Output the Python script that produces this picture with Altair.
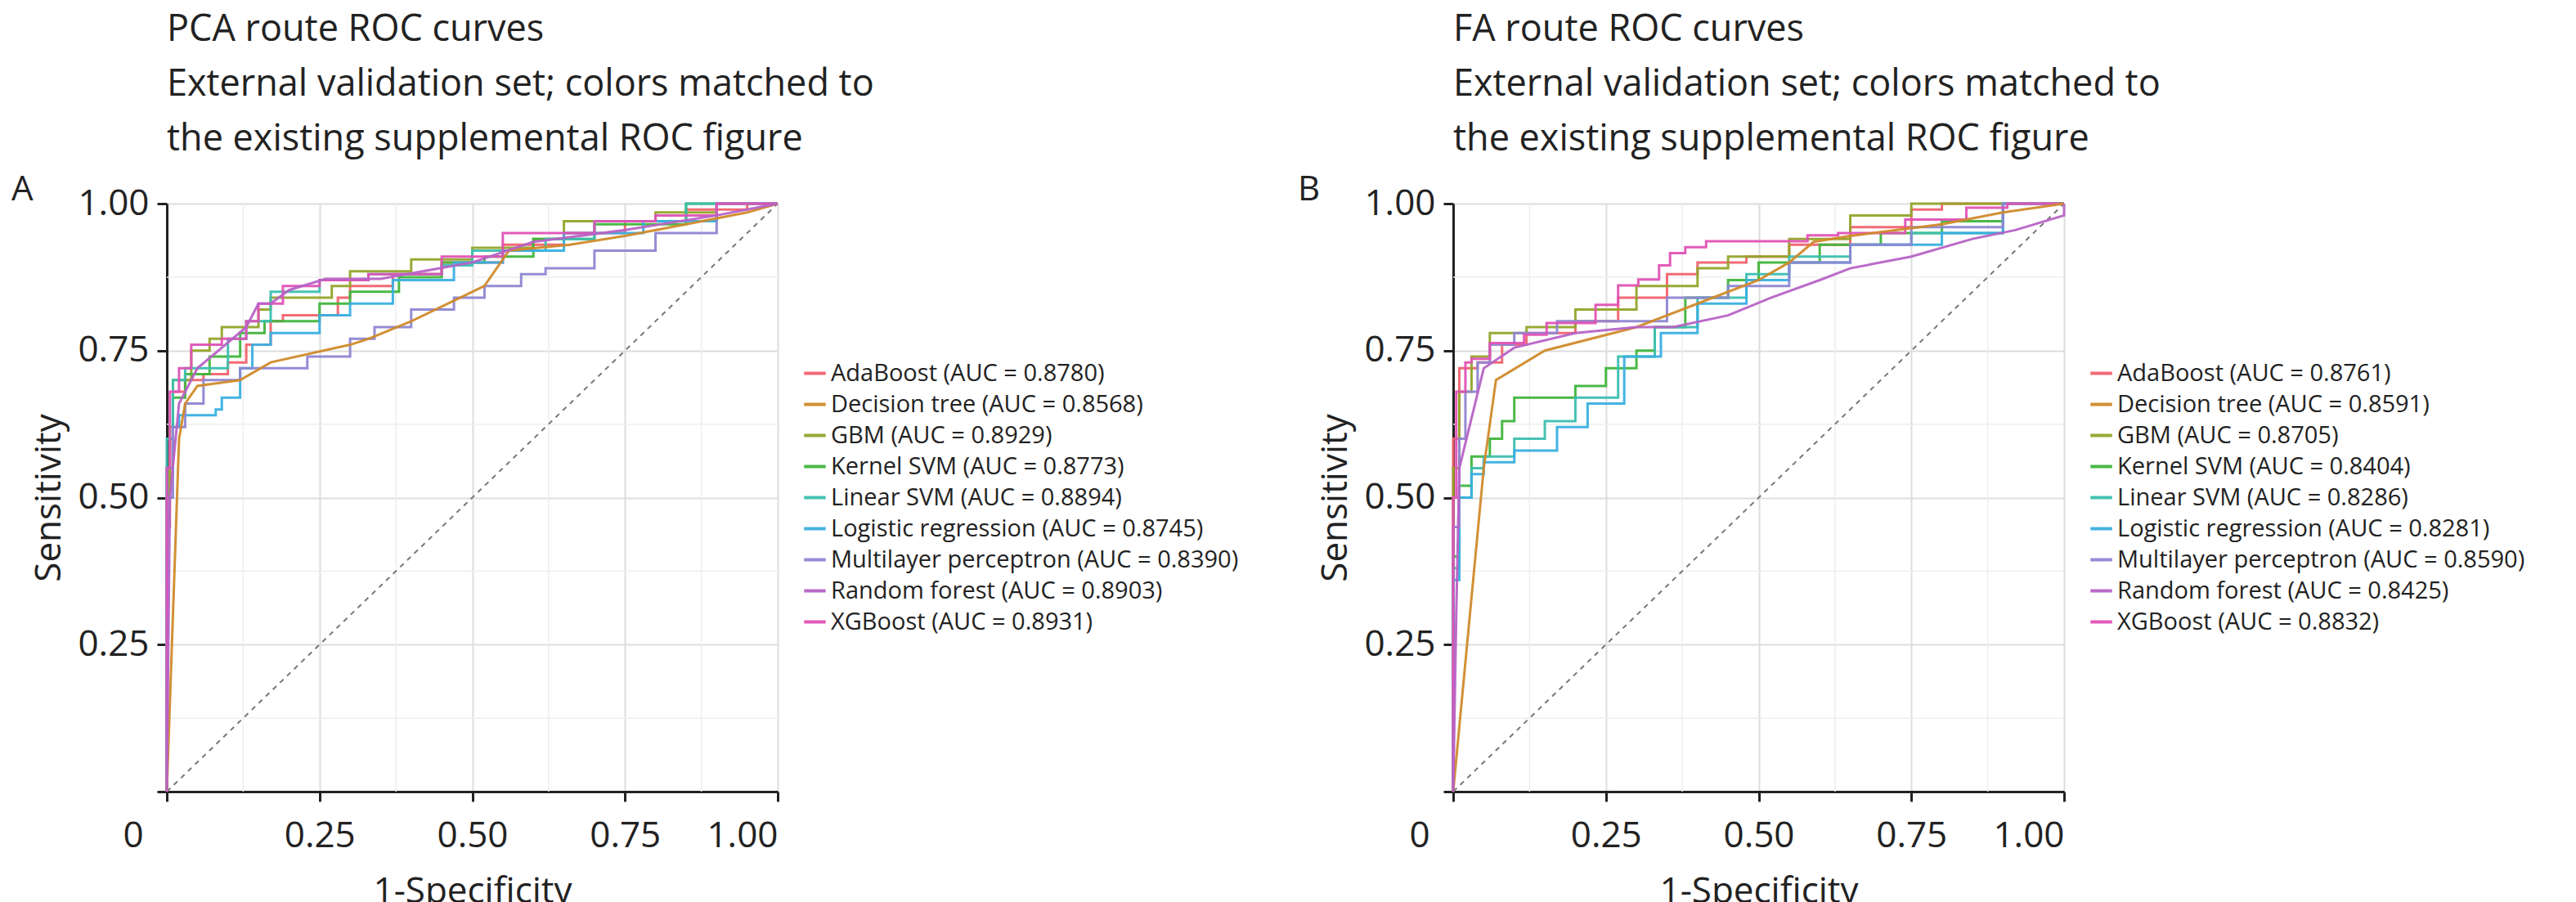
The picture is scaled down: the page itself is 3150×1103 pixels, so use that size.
import altair as alt
import pandas as pd

FONT = "Open Sans"

models = ["AdaBoost", "Decision tree", "GBM", "Kernel SVM", "Linear SVM",
          "Logistic regression", "Multilayer perceptron", "Random forest", "XGBoost"]
colors = ["#F0636E", "#D08A2A", "#93A52A", "#40B53C", "#3CBFB0",
          "#3AAFE0", "#8E86D2", "#B763C6", "#E052B5"]
smooth_models = ["Decision tree", "Random forest"]

auc_pca = [0.8780, 0.8568, 0.8929, 0.8773, 0.8894, 0.8745, 0.8390, 0.8903, 0.8931]
auc_fa = [0.8761, 0.8591, 0.8705, 0.8404, 0.8286, 0.8281, 0.8590, 0.8425, 0.8832]

# ROC points (fpr, tpr), panel A (PCA route)
roc_pca = {
    "AdaBoost": [(0, 0), (0.005, 0.45), (0.01, 0.6), (0.03, 0.68), (0.06, 0.70), (0.1, 0.71),
                 (0.13, 0.73), (0.17, 0.76), (0.19, 0.8), (0.28, 0.81), (0.3, 0.84), (0.37, 0.86),
                 (0.45, 0.88), (0.55, 0.9), (0.65, 0.93), (0.75, 0.95), (0.85, 0.97), (0.95, 0.99), (1, 1)],
    "Decision tree": [(0, 0), (0.02, 0.6), (0.03, 0.66), (0.05, 0.69), (0.12, 0.70), (0.17, 0.73),
                      (0.3, 0.76), (0.33, 0.77), (0.4, 0.80), (0.5, 0.85), (0.52, 0.86), (0.56, 0.92),
                      (0.66, 0.93), (0.75, 0.945), (0.85, 0.965), (0.95, 0.985), (1, 1)],
    "GBM": [(0, 0), (0.005, 0.5), (0.01, 0.62), (0.04, 0.7), (0.07, 0.75), (0.09, 0.77), (0.15, 0.79),
            (0.17, 0.82), (0.27, 0.84), (0.3, 0.86), (0.4, 0.885), (0.5, 0.905), (0.6, 0.925),
            (0.65, 0.94), (0.8, 0.97), (0.9, 0.985), (1, 1)],
    "Kernel SVM": [(0, 0), (0.01, 0.55), (0.03, 0.67), (0.07, 0.71), (0.12, 0.74), (0.16, 0.78),
                   (0.25, 0.80), (0.3, 0.83), (0.38, 0.85), (0.45, 0.875), (0.52, 0.90), (0.6, 0.91),
                   (0.7, 0.94), (0.85, 0.965), (1, 1)],
    "Linear SVM": [(0, 0), (0.01, 0.6), (0.03, 0.70), (0.1, 0.72), (0.13, 0.77), (0.17, 0.80),
                   (0.25, 0.85), (0.33, 0.87), (0.45, 0.88), (0.5, 0.895), (0.62, 0.92), (0.7, 0.94),
                   (0.85, 0.97), (1, 1)],
    "Logistic regression": [(0, 0), (0.01, 0.55), (0.02, 0.62), (0.08, 0.64), (0.09, 0.65), (0.12, 0.67),
                            (0.14, 0.72), (0.17, 0.76), (0.25, 0.78), (0.3, 0.81), (0.37, 0.83),
                            (0.47, 0.87), (0.55, 0.9), (0.65, 0.92), (0.78, 0.95), (0.9, 0.97), (1, 1)],
    "Multilayer perceptron": [(0, 0), (0.01, 0.5), (0.03, 0.62), (0.06, 0.66), (0.12, 0.70), (0.23, 0.72),
                              (0.3, 0.74), (0.34, 0.77), (0.4, 0.79), (0.47, 0.82), (0.52, 0.84),
                              (0.58, 0.86), (0.62, 0.88), (0.7, 0.89), (0.8, 0.92), (0.9, 0.95), (1, 1)],
    "Random forest": [(0, 0), (0.005, 0.5), (0.02, 0.66), (0.05, 0.72), (0.13, 0.79), (0.15, 0.83),
                      (0.17, 0.83), (0.2, 0.853), (0.26, 0.872), (0.35, 0.872), (0.5, 0.9), (0.6, 0.935),
                      (0.75, 0.955), (0.9, 0.98), (1, 1)],
    "XGBoost": [(0, 0), (0.005, 0.55), (0.02, 0.68), (0.04, 0.72), (0.09, 0.76), (0.13, 0.77),
                (0.15, 0.8), (0.19, 0.83), (0.25, 0.86), (0.33, 0.87), (0.45, 0.88), (0.55, 0.91),
                (0.7, 0.95), (0.8, 0.97), (0.9, 0.98), (1, 1)],
}

# panel B (FA route)
roc_fa = {
    "AdaBoost": [(0, 0), (0.01, 0.6), (0.04, 0.72), (0.08, 0.73), (0.12, 0.76), (0.2, 0.78),
                 (0.27, 0.8), (0.35, 0.84), (0.4, 0.88), (0.48, 0.9), (0.55, 0.91), (0.65, 0.93),
                 (0.75, 0.96), (0.8, 0.99), (0.9, 1.0), (1, 1)],
    "Decision tree": [(0, 0), (0.05, 0.55), (0.07, 0.70), (0.15, 0.75), (0.3, 0.79), (0.4, 0.83),
                      (0.5, 0.87), (0.55, 0.9), (0.59, 0.935), (0.65, 0.945), (0.8, 0.965),
                      (0.9, 0.985), (1, 1)],
    "GBM": [(0, 0), (0.01, 0.55), (0.03, 0.68), (0.06, 0.74), (0.12, 0.78), (0.2, 0.79), (0.3, 0.82),
            (0.4, 0.86), (0.45, 0.89), (0.55, 0.91), (0.65, 0.94), (0.75, 0.98), (0.82, 1), (1, 1)],
    "Kernel SVM": [(0, 0), (0.01, 0.4), (0.03, 0.52), (0.06, 0.57), (0.08, 0.60), (0.1, 0.63),
                   (0.2, 0.67), (0.25, 0.69), (0.3, 0.72), (0.33, 0.75), (0.38, 0.79), (0.45, 0.84),
                   (0.5, 0.87), (0.6, 0.9), (0.7, 0.93), (0.8, 0.95), (0.9, 0.97), (1, 1)],
    "Linear SVM": [(0, 0), (0.01, 0.38), (0.03, 0.5), (0.05, 0.55), (0.1, 0.57), (0.15, 0.6),
                   (0.2, 0.63), (0.27, 0.67), (0.33, 0.74), (0.4, 0.79), (0.48, 0.84), (0.55, 0.88),
                   (0.65, 0.91), (0.75, 0.93), (0.9, 0.95), (1, 1)],
    "Logistic regression": [(0, 0), (0.01, 0.36), (0.03, 0.5), (0.05, 0.54), (0.1, 0.56), (0.17, 0.58),
                            (0.22, 0.62), (0.28, 0.66), (0.34, 0.74), (0.4, 0.78), (0.48, 0.83),
                            (0.55, 0.87), (0.65, 0.9), (0.8, 0.93), (0.9, 0.95), (1, 1)],
    "Multilayer perceptron": [(0, 0), (0.01, 0.45), (0.02, 0.6), (0.04, 0.68), (0.06, 0.73), (0.1, 0.76),
                              (0.17, 0.78), (0.25, 0.8), (0.35, 0.8), (0.45, 0.84), (0.55, 0.86),
                              (0.65, 0.9), (0.75, 0.93), (0.9, 0.96), (1, 1)],
    "Random forest": [(0, 0), (0.005, 0.3), (0.01, 0.55), (0.05, 0.72), (0.1, 0.755), (0.2, 0.78),
                      (0.3, 0.79), (0.36, 0.79), (0.45, 0.81), (0.52, 0.84), (0.6, 0.87), (0.65, 0.89),
                      (0.75, 0.91), (0.85, 0.94), (0.92, 0.955), (1, 0.98), (1, 1)],
    "XGBoost": [(0, 0), (0.005, 0.5), (0.02, 0.68), (0.03, 0.73), (0.06, 0.736), (0.116, 0.763),
                (0.153, 0.777), (0.233, 0.797), (0.27, 0.828), (0.303, 0.861), (0.337, 0.871),
                (0.355, 0.895), (0.38, 0.916), (0.414, 0.926), (0.478, 0.936), (0.58, 0.936),
                (0.63, 0.946), (0.74, 0.95), (0.84, 0.973), (0.907, 0.993), (1, 1)],
}

ticks = [0, 0.25, 0.5, 0.75, 1.0]
minor = [0.125, 0.375, 0.625, 0.875]

W, H = 747, 719


def panel(roc, aucs, title, letter):
    labels = [f"{m} (AUC = {a:.4f})" for m, a in zip(models, aucs)]
    rows = []
    for m, lab in zip(models, labels):
        for i, (x, y) in enumerate(roc[m]):
            rows.append({"model": m, "label": lab, "fpr": x, "tpr": y, "order": i,
                         "smooth": m in smooth_models})
    df = pd.DataFrame(rows)

    xs = alt.Scale(domain=[0, 1], nice=False)
    ys = alt.Scale(domain=[0, 1], nice=False)
    color = alt.Color("label:N", scale=alt.Scale(domain=labels, range=colors),
                      legend=alt.Legend(title=None, orient="none", legendX=W + 30, legendY=192,
                                        labelFont=FONT, labelFontSize=29, labelColor="#222",
                                        symbolType="stroke", symbolStrokeWidth=4, symbolSize=700,
                                        rowPadding=7, labelLimit=800))
    xaxis = alt.Axis(values=ticks, title="1-Specificity", grid=True, gridColor="#DDDDDD", gridWidth=2,
                     labelExpr="datum.value == 0 ? '' : format(datum.value, '.2f')",
                     labelFont=FONT, labelFontSize=44, titleFont=FONT, titleFontSize=44,
                     titleFontWeight="normal", labelColor="#222", titleColor="#222",
                     domainColor="#222", domainWidth=3, tickColor="#222", tickWidth=3, tickSize=12,
                     labelPadding=20, titlePadding=24)
    yaxis = alt.Axis(values=ticks, title="Sensitivity", grid=True, gridColor="#DDDDDD", gridWidth=2,
                     labelExpr="datum.value == 0 ? '' : format(datum.value, '.2f')",
                     labelFont=FONT, labelFontSize=44, titleFont=FONT, titleFontSize=44,
                     titleFontWeight="normal", labelColor="#222", titleColor="#222",
                     domainColor="#222", domainWidth=3, tickColor="#222", tickWidth=3, tickSize=12,
                     labelPadding=10, titlePadding=12)

    base = alt.Chart(df)
    enc = dict(x=alt.X("fpr:Q", scale=xs, axis=xaxis), y=alt.Y("tpr:Q", scale=ys, axis=yaxis),
               color=color, detail="model:N", order="order:Q")
    steps = base.transform_filter("!datum.smooth").mark_line(
        strokeWidth=3, interpolate="step-before", opacity=0.95).encode(**enc)
    smooth = base.transform_filter("datum.smooth").mark_line(
        strokeWidth=3, opacity=0.95).encode(**enc)

    minor_df = pd.DataFrame({"v": minor})
    vminor = alt.Chart(minor_df).mark_rule(color="#EEEEEE", strokeWidth=1.5).encode(
        x=alt.X("v:Q", scale=xs))
    hminor = alt.Chart(minor_df).mark_rule(color="#EEEEEE", strokeWidth=1.5).encode(
        y=alt.Y("v:Q", scale=ys))
    diag = alt.Chart(pd.DataFrame({"a": [0, 1]})).mark_line(
        color="#777777", strokeDash=[6, 6], strokeWidth=2).encode(
        x=alt.X("a:Q", scale=xs), y=alt.Y("a:Q", scale=ys))
    tag = alt.Chart(pd.DataFrame({"t": [letter]})).mark_text(
        font=FONT, fontSize=42, color="#222", align="left", baseline="middle").encode(
        text="t:N", x=alt.value(-190), y=alt.value(-17))
    zero = alt.Chart(pd.DataFrame({"t": ["0"]})).mark_text(
        font=FONT, fontSize=44, color="#222", align="center", baseline="middle").encode(
        text="t:N", x=alt.value(-41), y=alt.value(H + 55))

    return alt.layer(vminor, hminor, diag, steps, smooth, tag, zero).properties(
        width=W, height=H,
        title=alt.Title(title, anchor="start", frame="group", font=FONT, fontSize=45,
                        fontWeight="normal", color="#222", lineHeight=67, offset=18),
    )


sub = ["External validation set; colors matched to", "the existing supplemental ROC figure"]
a = panel(roc_pca, auc_pca, ["PCA route ROC curves"] + sub, "A")
b = panel(roc_fa, auc_fa, ["FA route ROC curves"] + sub, "B")

chart = alt.hconcat(a, b, spacing=70).resolve_scale(color="independent").configure_view(
    stroke="#222", strokeWidth=3).configure(background="white")

chart.save("out.html", embed_options={"renderer": "svg", "actions": False})
